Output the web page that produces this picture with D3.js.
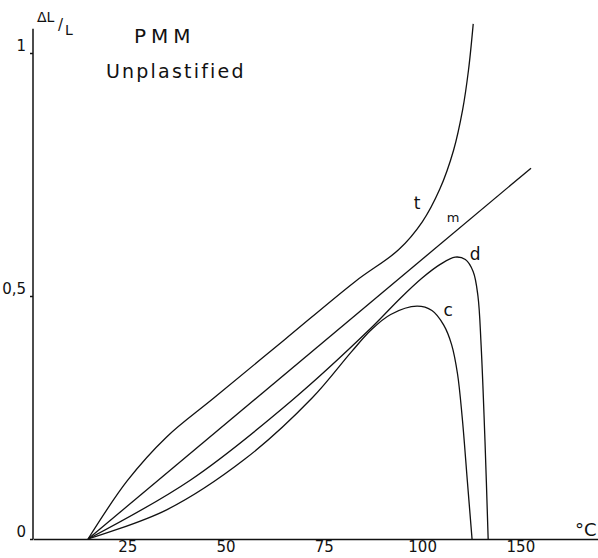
<!DOCTYPE html>
<html lang="en">
	<head>
		<meta charset="utf-8">
		<title>PMM unplastified - dilatation curves</title>
		<script type="text/javascript" src="https://cdn.jsdelivr.net/npm/d3@7/dist/d3.min.js"></script>
		<style type="text/css">
			body { margin: 0; background: #fff; }
			text { font-family: "DejaVu Sans", sans-serif; fill: #111; }
		</style>
	</head>
	<body>
		<script type="text/javascript">

			//Width and height
			var w = 598;
			var h = 558;

			//Curves: temperature (°C) and ΔL/L
			var tTemp = [15, 25, 35, 47, 65, 83, 94, 100, 104.5, 108, 110.3, 111.8, 113];
			var tVal  = [0, 0.12, 0.21, 0.29, 0.41, 0.53, 0.595, 0.652, 0.72, 0.8, 0.883, 0.965, 1.06];

			var mTemp = [15, 127.7];
			var mVal  = [0, 0.763];

			var dTemp = [15, 41, 67, 87, 94.4, 100, 104.6, 108.4, 111, 113, 114.2, 115, 116, 116.8];
			var dVal  = [0, 0.121, 0.286, 0.434, 0.495, 0.537, 0.565, 0.58, 0.575, 0.55, 0.5, 0.4, 0.2, 0];

			var cTemp = [15, 35, 55, 72, 82, 87, 92, 98.7, 102.5, 105.5, 107.5, 109, 110.2, 111.5, 112.7];
			var cVal  = [0, 0.06, 0.165, 0.29, 0.385, 0.43, 0.462, 0.479, 0.47, 0.44, 0.4, 0.34, 0.25, 0.12, 0];

			//Curve names and where their letters sit
			var curveNames = ["t", "m", "d", "c"];
			var labelTemp  = [98.7, 107.9, 113.5, 106.6];
			var labelVal   = [0.68, 0.652, 0.575, 0.458];

			//Axis ticks (the last mark is lettered 150 on the original)
			var xTicks      = [25, 50, 75, 100, 125];
			var xTickLabels = ["25", "50", "75", "100", "150"];
			var yTicks      = [0, 0.5, 1];
			var yTickLabels = ["0", "0,5", "1"];

			function zip(xs, ys) {
				return xs.map(function(x, i) { return [x, ys[i]]; });
			}
			var curves = [zip(tTemp, tVal), zip(mTemp, mVal), zip(dTemp, dVal), zip(cTemp, cVal)];

			var xScale = d3.scaleLinear()
						.domain([1, 145])
						.range([33, 599]);

			var yScale = d3.scaleLinear()
						.domain([0, 1])
						.range([539, 53]);

			//Create SVG element
			var svg = d3.select("body")
						.append("svg")
						.attr("width", w)
						.attr("height", h);

			//x axis
			var xAxis = d3.axisBottom(xScale)
						.tickValues(xTicks)
						.tickSize(0)
						.tickPadding(5)
						.tickFormat(function(d, i) { return xTickLabels[i]; });

			var gx = svg.append("g")
						.attr("transform", "translate(0," + yScale(0) + ")")
						.call(xAxis);
			gx.select(".domain").attr("stroke", "#111").attr("stroke-width", 1.6);
			gx.selectAll("text")
				.attr("font-size", "15px")
				.attr("fill", "#111")
				.attr("dy", "0.55em");

			//y axis
			var yAxis = d3.axisLeft(yScale)
						.tickValues(yTicks)
						.tickSize(3)
						.tickPadding(4)
						.tickFormat(function(d, i) { return yTickLabels[i]; });

			var gy = svg.append("g")
						.attr("transform", "translate(" + xScale(1) + ",0)")
						.call(yAxis);
			gy.select(".domain").remove();
			gy.selectAll("line").attr("stroke", "#111").attr("stroke-width", 1.5);
			gy.selectAll("text")
				.attr("font-size", "15px")
				.attr("fill", "#111")
				.attr("dy", "-0.2em");
			gy.append("line")
				.attr("y1", yScale(0))
				.attr("y2", yScale(1.05))
				.attr("stroke", "#111")
				.attr("stroke-width", 1.5);

			//Create curves
			var line = d3.line()
						.x(function(d) { return xScale(d[0]); })
						.y(function(d) { return yScale(d[1]); })
						.curve(d3.curveCatmullRom.alpha(0.5));

			svg.selectAll("path.curve")
			   .data(curves)
			   .enter()
			   .append("path")
			   .attr("class", "curve")
			   .attr("d", line)
			   .attr("fill", "none")
			   .attr("stroke", "#111")
			   .attr("stroke-width", 1.3);

			//Curve letters
			svg.selectAll("text.lab")
			   .data(curveNames)
			   .enter()
			   .append("text")
			   .attr("class", "lab")
			   .text(function(d) { return d; })
			   .attr("text-anchor", "middle")
			   .attr("x", function(d, i) { return xScale(labelTemp[i]); })
			   .attr("y", function(d, i) { return yScale(labelVal[i]); })
			   .attr("font-size", function(d) { return d == "m" ? "13px" : "17px"; });

			//Axis titles
			svg.append("text")
			   .text("ΔL")
			   .attr("x", 37)
			   .attr("y", 22)
			   .attr("font-size", "14px");
			svg.append("text")
			   .text("/")
			   .attr("x", 58)
			   .attr("y", 30)
			   .attr("font-size", "15px");
			svg.append("text")
			   .text("L")
			   .attr("x", 65)
			   .attr("y", 35)
			   .attr("font-size", "14px");

			svg.append("text")
			   .text("°C")
			   .attr("x", 575)
			   .attr("y", 536)
			   .attr("font-size", "18px");

			//Title
			svg.append("text")
			   .text("PMM")
			   .attr("x", 134)
			   .attr("y", 43)
			   .attr("font-size", "20px")
			   .attr("letter-spacing", "5px");
			svg.append("text")
			   .text("Unplastified")
			   .attr("x", 106)
			   .attr("y", 78)
			   .attr("font-size", "19px")
			   .attr("letter-spacing", "2.2px");

		</script>
	</body>
</html>
